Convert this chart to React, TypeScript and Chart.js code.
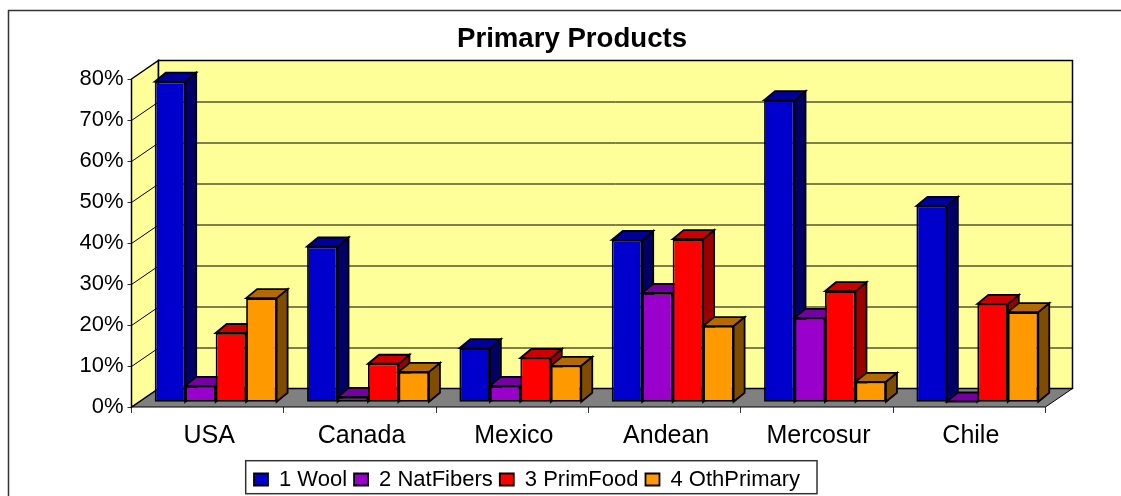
import React, { useEffect, useRef } from "react";
import { Chart, registerables } from "chart.js";

Chart.register(...registerables);

const categories = ["USA", "Canada", "Mexico", "Andean", "Mercosur", "Chile"];
const wool = [78.2, 38, 13.2, 39.6, 73.7, 47.9];
const natFibers = [4, 1.3, 4, 26.7, 20.6, 0.2];
const primFood = [16.9, 9.4, 10.8, 39.8, 27.1, 24];
const othPrimary = [25.4, 7.4, 8.9, 18.6, 5, 22];
const seriesNames = ["1 Wool", "2 NatFibers", "3 PrimFood", "4 OthPrimary"];

const FRONT = ["#0000CC", "#9900CC", "#FF0000", "#FF9900"];
const SIDE = ["#000066", "#660088", "#990000", "#804D00"];
const TOP = ["#000099", "#7300A0", "#CC0000", "#B36B00"];
const FONT = "'Liberation Sans', Arial, sans-serif";

const WALL_DX = 27;
const WALL_DY = 18.5;
const BAR_SHIFT_X = 8;
const BAR_SHIFT_Y = 4.7;
const BAR_DX = 11;
const BAR_DY = 9;

function poly(ctx: CanvasRenderingContext2D, pts: number[][], fill: string, lw = 1.8) {
  ctx.beginPath();
  pts.forEach((p, i) => (i ? ctx.lineTo(p[0], p[1]) : ctx.moveTo(p[0], p[1])));
  ctx.closePath();
  ctx.fillStyle = fill;
  ctx.fill();
  ctx.lineWidth = lw;
  ctx.strokeStyle = "#000";
  ctx.lineJoin = "miter";
  ctx.stroke();
}

const scene3d = {
  id: "scene3d",
  beforeDraw(chart: any) {
    const { ctx, width, height } = chart;
    ctx.save();
    ctx.fillStyle = "#fff";
    ctx.fillRect(0, 0, width, height);
    ctx.strokeStyle = "#333";
    ctx.lineWidth = 1.5;
    ctx.beginPath();
    ctx.moveTo(8.5, height);
    ctx.lineTo(8.5, 10.5);
    ctx.lineTo(width, 10.5);
    ctx.stroke();
    // legend frame
    ctx.strokeStyle = "#333";
    ctx.strokeRect(245.7, 460.7, 571.3, 33);
    ctx.restore();
  },
  afterLayout(chart: any) {
    const t = chart.titleBlock;
    t.left = 0;
    t.right = 1144;
    t.top = 22.5;
    const l = chart.legend;
    l.left = 247;
    l.top = 461.5;
  },
  beforeDatasetsDraw(chart: any) {
    const { ctx, chartArea: a, scales } = chart;
    const y = scales.y;
    const b = a.bottom;
    ctx.save();
    poly(ctx, [[a.left, b], [a.left + WALL_DX, b - WALL_DY], [a.right + WALL_DX, b - WALL_DY], [a.right, b]], "#808080", 1);
    poly(ctx, [[a.left, a.top], [a.left + WALL_DX, a.top - WALL_DY], [a.left + WALL_DX, b - WALL_DY], [a.left, b]], "#FFFF99", 1.5);
    poly(ctx, [[a.left + WALL_DX, a.top - WALL_DY], [a.right + WALL_DX, a.top - WALL_DY], [a.right + WALL_DX, b - WALL_DY], [a.left + WALL_DX, b - WALL_DY]], "#FFFF99", 1.5);
    ctx.lineWidth = 1;
    ctx.strokeStyle = "#000";
    y.ticks.forEach((t: any) => {
      if (t.value === 0 || t.value === y.max) return;
      const py = Math.round(y.getPixelForValue(t.value)) + 0.5;
      ctx.beginPath();
      ctx.moveTo(a.left, py);
      ctx.lineTo(a.left + WALL_DX, py - WALL_DY);
      ctx.lineTo(a.right + WALL_DX, py - WALL_DY);
      ctx.stroke();
    });
    ctx.translate(BAR_SHIFT_X, -BAR_SHIFT_Y);
    chart.data.datasets.forEach((_: any, i: number) => {
      chart.getDatasetMeta(i).data.forEach((bar: any) => {
        const { x, y: top, base, width: w } = bar.getProps(["x", "y", "base", "width"], true);
        const l = x - w / 2;
        const r = x + w / 2;
        poly(ctx, [[r, top], [r + BAR_DX, top - BAR_DY], [r + BAR_DX, base - BAR_DY], [r, base]], SIDE[i]);
        poly(ctx, [[l, top], [l + BAR_DX, top - BAR_DY], [r + BAR_DX, top - BAR_DY], [r, top]], TOP[i]);
        bar.draw(ctx, a);
      });
    });
    ctx.restore();
    return false;
  },
};

export default function App() {
  const ref = useRef<HTMLCanvasElement>(null);
  useEffect(() => {
    const values = [wool, natFibers, primFood, othPrimary];
    const chart = new Chart(ref.current!, {
      type: "bar",
      data: {
        labels: categories,
        datasets: values.map((data, i) => ({
          label: seriesNames[i],
          data,
          backgroundColor: FRONT[i],
          borderColor: "#000",
          borderWidth: 1.8,
          borderSkipped: false,
          inflateAmount: 0,
          categoryPercentage: 0.8,
          barPercentage: 1,
        })),
      },
      options: {
        responsive: false,
        animation: false,
        layout: { padding: { left: 0, right: 75.5, top: 0, bottom: 0 } },
        plugins: {
          tooltip: { enabled: false },
          title: {
            display: true,
            text: "Primary Products",
            color: "#000",
            font: { family: FONT, size: 27.6, weight: "bold" },
            padding: { top: 0, bottom: 45.88 },
          },
          legend: {
            position: "bottom",
            align: "start",
            labels: {
              color: "#000",
              font: { family: FONT, size: 22 },
              boxWidth: 14,
              boxHeight: 12,
              padding: 7,
            },
          },
        },
        scales: {
          x: {
            afterFit(s: any) { s.height = 89 - (s.chart.legend?.height ?? 31); },
            border: { display: false },
            grid: { display: true, drawOnChartArea: false, tickLength: 6, color: "#333", offset: true },
            ticks: { color: "#000", font: { family: FONT, size: 25 }, padding: 8, maxRotation: 0, autoSkip: false, labelOffset: 1.5 },
          },
          y: {
            min: 0,
            max: 80,
            afterFit(s: any) { s.width = 131.5; },
            border: { display: false },
            grid: { display: true, drawOnChartArea: false, tickLength: 4, color: "#333" },
            ticks: {
              stepSize: 10,
              color: "#000",
              font: { family: FONT, size: 22 },
              padding: 4,
              callback: (v: any) => `${v}%`,
            },
          },
        },
      },
      plugins: [scene3d],
    } as any);
    return () => chart.destroy();
  }, []);
  return (
    <div style={{ position: "fixed", left: 0, top: 0, width: 1121, height: 496 }}>
      <canvas ref={ref} width={1121} height={496} style={{ display: "block" }} />
    </div>
  );
}
